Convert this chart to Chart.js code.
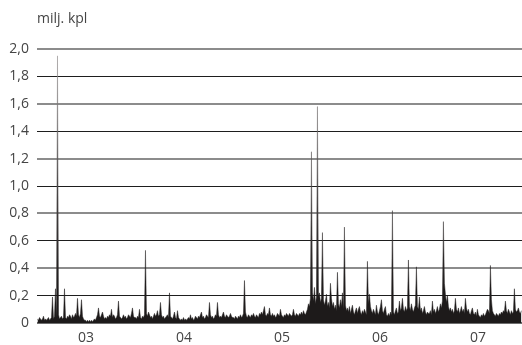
<!DOCTYPE html>
<html>
<head>
<meta charset="utf-8">
<script src="https://cdn.jsdelivr.net/npm/chart.js@4"></script>
<style>
	html, body { margin: 0; padding: 0; background: #fff; }
	#wrap { position: relative; width: 522px; height: 345px; }
</style>
</head>
<body>
<div id="wrap"><canvas id="volChart"></canvas></div>
<script>
	// daily volume, million shares (one value per ~pixel)
	let vol2003 = [
		0.03,0.02,0.04,0.03,0.02,0.03,0.05,0.02,0.03,0.02,0.03,0.04,0.02,0.03,0.04,0.19,0.03,0.05,0.25,0.04,
		1.95,0.06,0.03,0.04,0.05,0.03,0.04,0.25,0.04,0.03,0.05,0.04,0.06,0.05,0.03,0.06,0.04,0.05,0.07,0.05,
		0.18,0.06,0.04,0.07,0.17,0.05,0.03,0.02,0.02,0.01,0.02,0.01,0.02,0.01,0.02,0.01,0.02,0.03,0.02,0.04,
		0.06,0.11,0.05,0.04,0.06,0.08,0.05,0.03,0.04,0.03,0.05,0.04,0.06,0.05,0.10,0.04,0.06,0.05,0.03,0.04,
		0.06,0.16,0.05,0.04,0.03,0.04,0.06,0.04,0.05,0.03,0.04,0.06,0.05,0.04,0.07,0.11,0.05,0.04
	];
	let vol2004 = [
		0.04,0.03,0.05,0.04,0.10,0.04,0.03,0.05,0.04,0.06,0.53,0.07,0.05,0.08,0.06,0.04,0.05,0.03,0.05,0.07,
		0.05,0.06,0.09,0.05,0.06,0.15,0.06,0.04,0.05,0.03,0.04,0.05,0.06,0.04,0.22,0.05,0.04,0.03,0.05,0.08,
		0.04,0.03,0.09,0.04,0.03,0.02,0.03,0.02,0.04,0.02,0.03,0.02,0.03,0.04,0.03,0.06,0.03,0.04,0.02,0.03,
		0.05,0.04,0.03,0.05,0.04,0.06,0.08,0.04,0.05,0.03,0.04,0.06,0.05,0.04,0.15,0.06,0.04,0.05,0.03,0.04,
		0.06,0.05,0.15,0.06,0.04,0.05,0.04,0.06,0.08,0.05,0.04,0.06,0.05,0.04,0.05,0.07,0.05,0.04
	];
	let vol2005 = [
		0.04,0.03,0.05,0.04,0.03,0.05,0.04,0.06,0.04,0.05,0.07,0.31,0.08,0.05,0.04,0.06,0.05,0.04,0.06,0.05,
		0.07,0.05,0.04,0.06,0.05,0.04,0.07,0.06,0.08,0.06,0.09,0.12,0.06,0.05,0.07,0.06,0.11,0.06,0.05,0.07,
		0.05,0.06,0.04,0.05,0.07,0.06,0.05,0.10,0.06,0.05,0.04,0.06,0.05,0.07,0.06,0.05,0.07,0.06,0.05,0.06,
		0.10,0.06,0.05,0.07,0.06,0.05,0.07,0.06,0.08,0.06,0.09,0.07,0.06,0.08,0.10,0.14,0.12,0.18,1.25,0.22,
		0.16,0.26,0.14,0.19,1.58,0.20,0.22,0.15,0.18,0.66,0.17,0.13,0.16,0.21,0.12,0.15,0.11,0.29
	];
	let vol2006 = [
		0.18,0.12,0.15,0.10,0.13,0.09,0.37,0.14,0.11,0.17,0.12,0.22,0.10,0.70,0.13,0.09,0.11,0.08,0.12,0.07,
		0.10,0.13,0.08,0.06,0.09,0.11,0.07,0.10,0.12,0.08,0.06,0.09,0.07,0.10,0.08,0.06,0.45,0.14,0.21,0.12,
		0.09,0.07,0.10,0.08,0.06,0.13,0.08,0.06,0.09,0.12,0.17,0.09,0.07,0.10,0.12,0.06,0.05,0.07,0.05,0.08,
		0.06,0.82,0.08,0.06,0.09,0.11,0.07,0.08,0.16,0.09,0.11,0.18,0.10,0.08,0.12,0.09,0.11,0.46,0.12,0.09,
		0.14,0.10,0.08,0.11,0.13,0.41,0.12,0.10,0.19,0.09,0.11,0.07,0.09,0.12,0.08,0.06,0.08,0.07
	];
	let vol2007 = [
		0.07,0.09,0.06,0.16,0.08,0.10,0.07,0.09,0.12,0.08,0.10,0.14,0.11,0.16,0.74,0.29,0.21,0.15,0.20,0.12,
		0.09,0.11,0.08,0.10,0.07,0.09,0.18,0.10,0.08,0.11,0.07,0.09,0.12,0.08,0.10,0.07,0.18,0.11,0.08,0.10,
		0.07,0.06,0.09,0.11,0.07,0.06,0.08,0.05,0.10,0.06,0.05,0.04,0.06,0.05,0.07,0.05,0.06,0.08,0.10,0.09,
		0.07,0.42,0.17,0.09,0.07,0.06,0.05,0.07,0.06,0.05,0.07,0.06,0.08,0.07,0.09,0.08,0.16,0.09,0.07,0.10,
		0.08,0.06,0.09,0.07,0.08,0.25,0.10,0.08,0.09,0.11,0.08,0.07,0.09
	];
	let years = [2003, 2004, 2005, 2006, 2007];
	let yearTicks = [2003.5, 2004.5, 2005.5, 2006.5, 2007.5];
	let yTicks = [0, 0.2, 0.4, 0.6, 0.8, 1.0, 1.2, 1.4, 1.6, 1.8, 2.0];
	let unitLabel = 'milj. kpl';

	let perYear = 98;
	let points = [];
	[vol2003, vol2004, vol2005, vol2006, vol2007].forEach(function (arr, k) {
		arr.forEach(function (v, i) {
			points.push({ x: years[k] + (i + 0.5) / perYear, y: v });
		});
	});

	let font = { family: '"Open Sans", "Noto Sans", sans-serif', size: 14 };

	// thin spikes look grey in the original, dense base stays black
	function spikeFill(context) {
		let chart = context.chart;
		let area = chart.chartArea;
		if (!area) return '#1d1a1a';
		let g = chart.ctx.createLinearGradient(0, area.bottom, 0, area.top);
		g.addColorStop(0, '#1d1a1a');
		g.addColorStop(0.12, '#1d1a1a');
		g.addColorStop(0.5, '#4a4646');
		g.addColorStop(1, '#9a9696');
		return g;
	}

	let unitTitle = {
		id: 'unitTitle',
		afterDraw: function (chart) {
			let ctx = chart.ctx;
			ctx.save();
			ctx.font = '14px "Open Sans", "Noto Sans", sans-serif';
			ctx.fillStyle = '#444';
			ctx.textBaseline = 'middle';
			ctx.fillText(unitLabel, 37, 19);
			ctx.restore();
		}
	};

	let ctx = document.getElementById('volChart').getContext('2d');
	let volChart = new Chart(ctx, {
		type: 'line',
		data: {
			datasets: [{
				data: points,
				borderColor: spikeFill,
				borderWidth: 0.5,
				backgroundColor: spikeFill,
				fill: 'origin',
				pointRadius: 0,
				tension: 0
			}]
		},
		options: {
			responsive: true,
			maintainAspectRatio: false,
			animation: false,
			layout: { padding: { top: 49, right: 0, left: 0, bottom: 0 } },
			plugins: {
				legend: { display: false },
				tooltip: { enabled: false }
			},
			scales: {
				x: {
					type: 'linear',
					min: 2003,
					max: 2007.95,
					grid: { display: false, drawTicks: false },
					border: { display: false },
					afterBuildTicks: function (axis) {
						axis.ticks = yearTicks.map(function (v) { return { value: v }; });
					},
					afterFit: function (axis) { axis.height = 22; },
					ticks: {
						font: font,
						color: '#444',
						padding: 7,
						maxRotation: 0,
						autoSkip: false,
						callback: function (v) {
							return String(Math.floor(v) % 100).padStart(2, '0');
						}
					}
				},
				y: {
					min: 0,
					max: 2,
					afterBuildTicks: function (axis) {
						axis.ticks = yTicks.map(function (v) { return { value: v }; });
					},
					afterFit: function (axis) { axis.width = 37; },
					border: { display: false },
					grid: {
						drawTicks: false,
						color: function (c) {
							if (c.index === 0) return '#6e6e6e';
							return c.index % 2 === 0 ? '#8c8c8c' : '#1e1e1e';
						},
						lineWidth: function (c) {
							if (c.index === 0) return 2;
							return c.index % 2 === 0 ? 2 : 1;
						}
					},
					ticks: {
						font: font,
						color: '#444',
						padding: 8,
						callback: function (v) {
							return v === 0 ? '0' : v.toFixed(1).replace('.', ',');
						}
					}
				}
			}
		},
		plugins: [unitTitle]
	});
</script>
</body>
</html>
